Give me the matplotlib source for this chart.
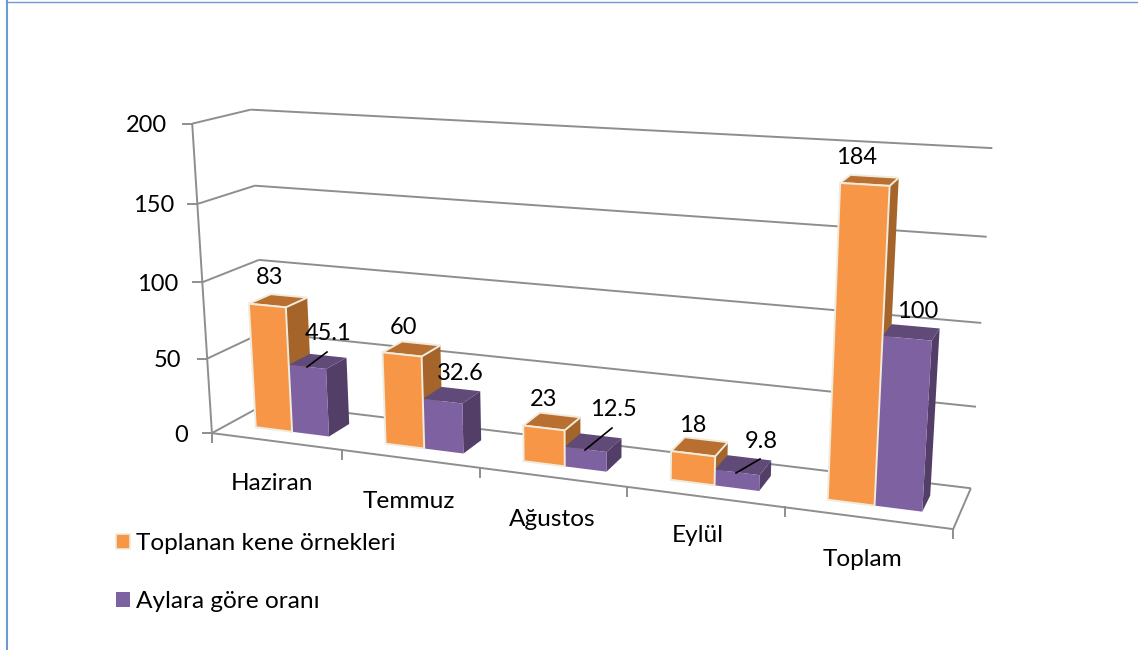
import numpy as np
import matplotlib
matplotlib.use('Agg')
import matplotlib.pyplot as plt
from matplotlib.patches import Polygon, Patch

plt.rcParams['font.family'] = ['Lato', 'DejaVu Sans']

# ─── DATA ─────────────────────────────────────────────────────────────────────
MONTHS = ['Haziran', 'Temmuz', 'Ağustos', 'Eylül', 'Toplam']
SAMPLES = [83, 60, 23, 18, 184]
SHARE = [45.1, 32.6, 12.5, 9.8, 100]
Y_TICKS = [0, 50, 100, 150, 200]
SERIES_NAMES = ['Toplanan kene örnekleri', 'Aylara göre oranı']

# ─── CONFIGURE HERE ───────────────────────────────────────────────────────────
W, H = 1138, 650
FS_NUM = 17
FS_TXT = 17.6
GRID = '#8E8E8E'
GRID_LW = 1.4
ORANGE = {'front': '#F79646', 'top': '#B96F30', 'side': '#A5652A'}
PURPLE = {'front': '#7E61A0', 'top': '#5F4A78', 'side': '#533E68'}
EDGE = '#EFEBDD'
BAR_W = 2 / 7       # gap width 150%
DEPTH = (0.3, 0.7)  # gap depth 150%

# where chart-space points (category, depth, value) land in the image, used to
# fit the camera of the 3D view
CALIB = [
    (0, 0, 200, 192.3, 123.3), (0, 1, 200, 251.0, 109.3),
    (0, 0, 150, 197.3, 204.0), (0, 1, 150, 254.3, 185.7),
    (0, 0, 100, 202.3, 282.3), (0, 1, 100, 259.0, 260.0),
    (0, 0, 50, 207.3, 358.7), (0, 0, 0, 212.3, 433.3),
    (5, 1, 200, 992.3, 148.7), (5, 1, 150, 986.7, 237.0),
    (5, 1, 100, 981.3, 322.7), (5, 1, 50, 976.0, 406.7),
    (5, 1, 0, 971.0, 488.0), (5, 0, 0, 954.0, 528.3),
    (1, 0, 0, 341.7, 450.0), (2, 0, 0, 480.0, 468.0),
    (3, 0, 0, 626.7, 486.7), (4, 0, 0, 784.0, 508.0),
]

# data labels were dragged by hand in the original
SAMPLE_LABEL_POS = [(270, 278), (404, 327), (544, 400), (693, 426), (857, 158)]
SHARE_LABEL_POS = [(328, 334), (460, 373), (613, 410), (761, 442), (918, 312)]
LEADERS = [((307, 367), (327, 352)), ((585, 450), (612, 428)), ((736, 473), (760, 459))]
MONTH_LABEL_POS = [(272, 483), (409, 501), (552, 519), (698, 536), (863, 560)]
YTICK_RIGHT = [188, 181, 178, 174, 167]


def fit_camera(calib):
    rows = []
    for x, d, v, px, py in calib:
        p = [x, d, v, 1]
        rows.append(p + [0, 0, 0, 0] + [-px * c for c in p])
        rows.append([0, 0, 0, 0] + p + [-py * c for c in p])
    _, _, vt = np.linalg.svd(np.array(rows, dtype=float))
    return vt[-1].reshape(3, 4)


CAM = fit_camera(CALIB)


def project(x, d, v):
    q = CAM @ np.array([x, d, v, 1.0])
    return q[0] / q[2], q[1] / q[2]


def line3d(ax, a, b, lw=GRID_LW, z=1):
    pa, pb = project(*a), project(*b)
    ax.plot([pa[0], pb[0]], [pa[1], pb[1]], color=GRID, lw=lw, zorder=z,
            solid_capstyle='butt')


def faces(x0, x1, v):
    d0, d1 = DEPTH
    front = [(x0, d0, 0), (x1, d0, 0), (x1, d0, v), (x0, d0, v)]
    side = [(x1, d0, 0), (x1, d1, 0), (x1, d1, v), (x1, d0, v)]
    top = [(x0, d0, v), (x1, d0, v), (x1, d1, v), (x0, d1, v)]
    return {k: [project(*p) for p in f]
            for k, f in (('front', front), ('side', side), ('top', top))}


fig = plt.figure(figsize=(W / 100, H / 100), dpi=100)
ax = fig.add_axes([0, 0, 1, 1])
ax.set_xlim(0, W); ax.set_ylim(H, 0)
ax.axis('off')

# chart frame, only left and top edges show in the crop
ax.plot([6.7, 6.7], [H, 1], color='#6C9BD2', lw=1.5, zorder=1)
ax.plot([6, W], [1.7, 1.7], color='#6C9BD2', lw=1, zorder=1)

# ── walls ─────────────────────────────────────────────────────────────────────
for v in Y_TICKS:
    line3d(ax, (0, 0, v), (0, 1, v))
    line3d(ax, (0, 1, v), (5, 1, v))
    px, py = project(0, 0, v)
    ax.plot([px - 9, px], [py, py], color=GRID, lw=GRID_LW, zorder=1)
line3d(ax, (0, 0, 0), (0, 0, 200))
line3d(ax, (0, 0, 0), (5, 0, 0))
line3d(ax, (5, 0, 0), (5, 1, 0))
for i in range(len(MONTHS) + 1):
    px, py = project(i, 0, 0)
    ax.plot([px, px], [py, py + 9], color=GRID, lw=GRID_LW, zorder=1)

# ── bars, left to right ───────────────────────────────────────────────────────
for i in range(len(MONTHS)):
    left = i + (1 - 2 * BAR_W) / 2
    mid = left + BAR_W
    right = mid + BAR_W
    fo = faces(left, mid, SAMPLES[i])
    fp = faces(mid, right, SHARE[i])
    ax.add_patch(Polygon(fo['side'], fc=ORANGE['side'], ec='none', zorder=2))
    for k in ('side', 'top', 'front'):
        ax.add_patch(Polygon(fp[k], fc=PURPLE[k], ec='none', zorder=3))
    for k in ('top', 'front'):
        ax.add_patch(Polygon(fo[k], fc=ORANGE[k], ec=EDGE, lw=1.4, zorder=4))

# ── text ──────────────────────────────────────────────────────────────────────
for v, xr in zip(Y_TICKS, YTICK_RIGHT):
    ax.text(xr, project(0, 0, v)[1] + 2, str(v), ha='right', va='center',
            fontsize=FS_NUM, color='black')
for name, (x, y) in zip(MONTHS, MONTH_LABEL_POS):
    ax.text(x, y, name, ha='center', va='center', fontsize=FS_TXT, color='black')
for val, (x, y) in zip(SAMPLES, SAMPLE_LABEL_POS):
    ax.text(x, y, f'{val:g}', ha='center', va='center', fontsize=FS_NUM, zorder=6)
for val, (x, y) in zip(SHARE, SHARE_LABEL_POS):
    ax.text(x, y, f'{val:g}', ha='center', va='center', fontsize=FS_NUM, zorder=6)
for (a, b) in LEADERS:
    ax.plot([a[0], b[0]], [a[1], b[1]], color='black', lw=1.2, zorder=5)

handles = [Patch(fc=ORANGE['front'], ec=EDGE, lw=1.2), Patch(fc=PURPLE['front'], ec='none')]
ax.legend(handles, SERIES_NAMES, loc='upper left', bbox_to_anchor=(115.5 / W, 1 - 533 / H),
          bbox_transform=ax.transAxes, frameon=False, fontsize=FS_TXT, borderpad=0,
          borderaxespad=0, handlelength=0.58, handleheight=0.58, handletextpad=0.26,
          labelspacing=1.53)

plt.savefig('out.png', dpi=100)
